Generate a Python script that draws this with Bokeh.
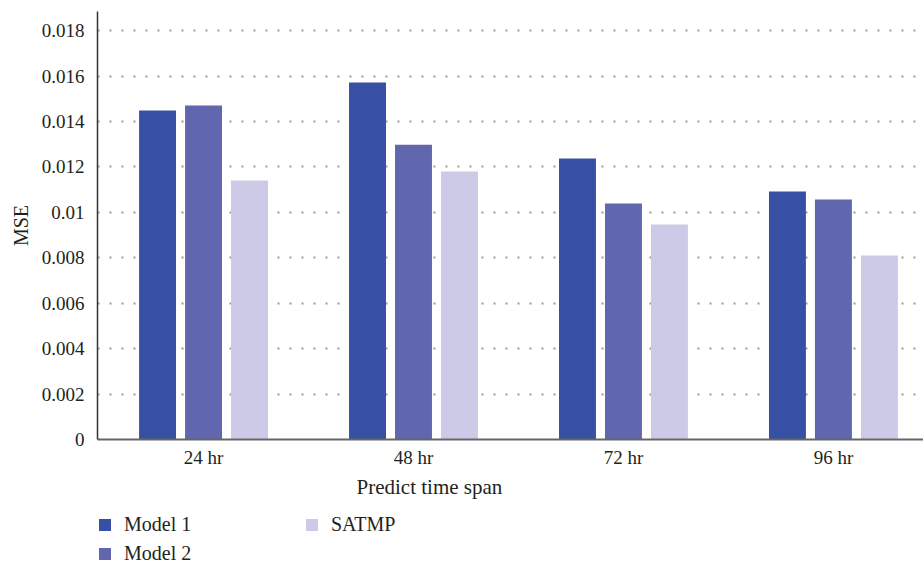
from bokeh.plotting import figure
from bokeh.models import ColumnDataSource, FixedTicker, Range1d, Legend, LegendItem, Title
from bokeh.layouts import column
from bokeh.transform import dodge
from bokeh.embed import file_html
from bokeh.resources import INLINE

categories = ["24 hr", "48 hr", "72 hr", "96 hr"]
model1 = [0.01448, 0.01571, 0.01237, 0.01092]
model2 = [0.01470, 0.01298, 0.01039, 0.01056]
satmp = [0.01140, 0.01180, 0.00946, 0.00810]
series_names = ["Model 1", "Model 2", "SATMP"]
colors = ["#3750a3", "#6167af", "#cccae6"]
y_ticks = [0, 0.002, 0.004, 0.006, 0.008, 0.01, 0.012, 0.014, 0.016, 0.018]
y_tick_labels = ["0", "0.002", "0.004", "0.006", "0.008", "0.01", "0.012", "0.014", "0.016", "0.018"]
x_title = "Predict time span"
y_title = "MSE"

FONT = "Liberation Serif"
TXT = "#231f20"

src = ColumnDataSource(dict(x=list(range(len(categories))), m1=model1, m2=model2, s=satmp))
cols = ["m1", "m2", "s"]

w = 0.176
off = 0.219
offsets = [-off, 0, off]

p = figure(width=923, height=505, output_backend="svg", toolbar_location=None,
           x_range=Range1d(-0.505, 3.429), y_range=Range1d(0, 0.01884),
           min_border_left=97, min_border_right=0, min_border_top=11, min_border_bottom=66)
p.outline_line_color = None

for c, o, col in zip(cols, offsets, colors):
    p.vbar(x=dodge("x", o), top=c, width=w, source=src, fill_color=col, line_color=None)

# axes
p.xaxis.ticker = FixedTicker(ticks=list(range(len(categories))))
p.xaxis.major_label_overrides = {i: c for i, c in enumerate(categories)}
p.yaxis.ticker = FixedTicker(ticks=y_ticks)
p.yaxis.major_label_overrides = {t: l for t, l in zip(y_ticks, y_tick_labels)}
for ax in (p.xaxis[0], p.yaxis[0]):
    ax.major_tick_line_color = None
    ax.minor_tick_line_color = None
    ax.major_label_text_font = FONT
    ax.major_label_text_font_size = "19px"
    ax.major_label_text_color = TXT
    ax.axis_label_text_font = FONT
    ax.axis_label_text_font_size = "20px"
    ax.axis_label_text_font_style = "normal"
    ax.axis_label_text_color = TXT
p.yaxis.axis_label = y_title
p.xaxis.axis_line_color = "#666666"
p.xaxis.axis_line_width = 2
p.yaxis.axis_line_color = "#333333"
p.yaxis.axis_line_width = 1.5
p.yaxis.major_label_standoff = 7
p.yaxis.axis_label_standoff = 7
p.xaxis.major_label_standoff = 1

# x-axis title, placed left of centre like the reference
p.add_layout(Title(text=x_title, align="left", offset=259, standoff=4,
                   text_font=FONT, text_font_size="21px", text_font_style="normal",
                   text_color=TXT), "below")

p.xgrid.grid_line_color = None
p.ygrid.grid_line_color = "#999999"
p.ygrid.grid_line_dash = "2 10"
p.ygrid.grid_line_width = 2

# legend strip (same bars, drawn out of view, only their legend swatches show)
pl = figure(width=923, height=60, output_backend="svg", toolbar_location=None,
            x_axis_type=None, y_axis_type=None, x_range=Range1d(-0.505, 3.429), y_range=Range1d(1, 2),
            min_border_left=0, min_border_right=0, min_border_top=0, min_border_bottom=0)
pl.outline_line_color = None
pl.xgrid.visible = False
pl.ygrid.visible = False
lr = [pl.vbar(x=dodge("x", o), top=c, width=w, source=src, fill_color=col, line_color=None)
      for c, o, col in zip(cols, offsets, colors)]
legend = Legend(items=[LegendItem(label=n, renderers=[r]) for n, r in zip(series_names, lr)],
                orientation="vertical", nrows=2, location=(0, 0),
                glyph_width=15, glyph_height=15, label_standoff=12,
                label_width=174, label_height=15, spacing=6, padding=0, margin=0,
                border_line_color=None, background_fill_alpha=0,
                label_text_font=FONT, label_text_font_size="20px", label_text_color=TXT)
pl.add_layout(legend)

layout = column(p, pl, spacing=0)
open("out.html", "w").write(file_html(layout, INLINE))
